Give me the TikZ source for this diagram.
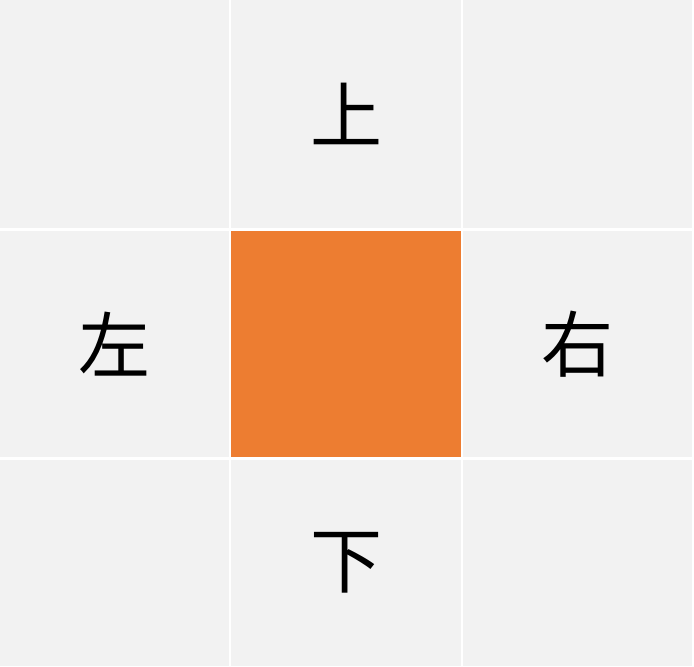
\documentclass[tikz,border=0pt]{standalone}
\usepackage{fontspec}
\newfontfamily\cjk{Noto Sans CJK SC}
\definecolor{cellgray}{HTML}{F2F2F2}
\definecolor{centreorange}{HTML}{ED7D31}

\begin{document}
\begin{tikzpicture}[
    x=0.75pt, y=-0.75pt,
    cell/.style={fill=cellgray, draw=none, inner sep=0pt, anchor=north west, font=\cjk\fontsize{54}{54}\selectfont},
    centre/.style={cell, fill=centreorange}
]
\fill[white] (0,0) rectangle (694,666);
% top row
\node[cell, minimum width=229*0.75pt, minimum height=228*0.75pt] (topleft) at (0,0) {};
\node[cell, minimum width=230*0.75pt, minimum height=228*0.75pt] (up) at (231,0) {上};
\node[cell, minimum width=229*0.75pt, minimum height=228*0.75pt] (topright) at (463,0) {};
% middle row
\node[cell, minimum width=229*0.75pt, minimum height=226*0.75pt] (left) at (0,231) {左};
\node[centre, minimum width=230*0.75pt, minimum height=226*0.75pt] (mid) at (231,231) {};
\node[cell, minimum width=229*0.75pt, minimum height=226*0.75pt] (right) at (463,231) {右};
% bottom row
\node[cell, minimum width=229*0.75pt, minimum height=206*0.75pt] (botleft) at (0,460) {};
\node[cell, minimum width=230*0.75pt, minimum height=206*0.75pt] (down) at (231,460) {下};
\node[cell, minimum width=229*0.75pt, minimum height=206*0.75pt] (botright) at (463,460) {};
\end{tikzpicture}
\end{document}
